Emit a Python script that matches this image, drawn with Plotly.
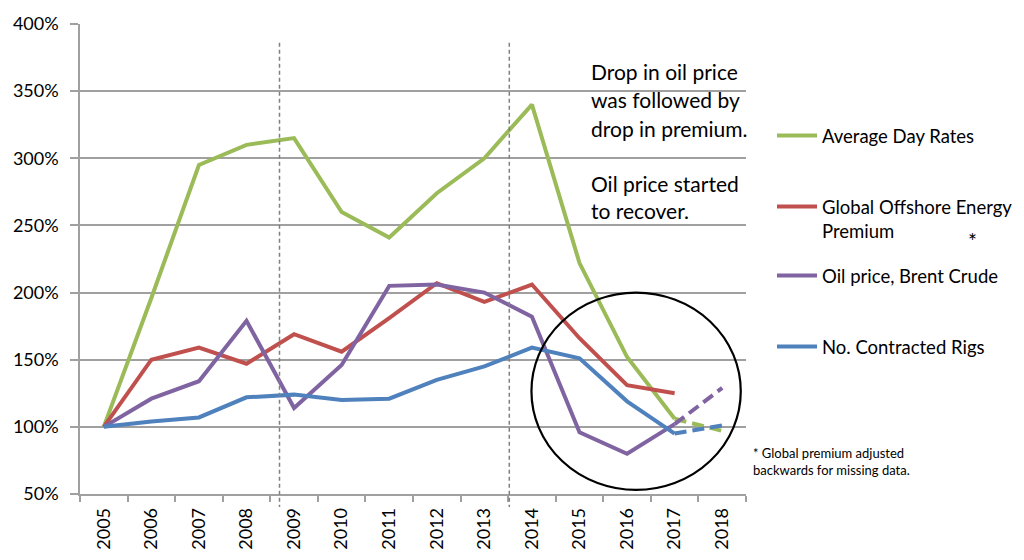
import plotly.graph_objects as go

years = ["2005", "2006", "2007", "2008", "2009", "2010", "2011",
         "2012", "2013", "2014", "2015", "2016", "2017", "2018"]
day_rates = [100, 196, 295, 310, 315, 260, 241, 274, 300, 340, 222, 152, 106, 97]
premium = [100, 150, 159, 147, 169, 156, 181, 207, 193, 206, 166, 131, 125, None]
oil_price = [100, 121, 134, 179, 114, 146, 205, 206, 200, 182, 96, 80, 102, 129]
rigs = [100, 104, 107, 122, 124, 120, 121, 135, 145, 159, 151, 119, 95, 101]

names = ["Average Day Rates", "Global Offshore Energy<br>Premium",
         "Oil price, Brent Crude", "No. Contracted Rigs"]
colors = ["#9BBB59", "#C0504D", "#8064A2", "#4F81BD"]
series = [day_rates, premium, oil_price, rigs]
dashed_tail = [True, False, True, True]
legends = ["legend", "legend2", "legend3", "legend4"]

FONT = "Lato"
fig = go.Figure()

for name, col, vals, tail, lg in zip(names, colors, series, dashed_tail, legends):
    if tail:
        xs, ys = years[:-1], vals[:-1]
    else:
        xs = [y for y, v in zip(years, vals) if v is not None]
        ys = [v for v in vals if v is not None]
    fig.add_trace(go.Scatter(x=xs, y=ys, mode="lines", name=name,
                             line=dict(color=col, width=4), legend=lg))
    if tail:
        fig.add_trace(go.Scatter(x=years[-2:], y=vals[-2:], mode="lines",
                                 showlegend=False, hoverinfo="skip",
                                 line=dict(color=col, width=4, dash="12px,6px")))

# the page body adds an 8px offset; figure is sized to fill the rest
OFF = 8
FW, FH = 1024 - OFF, 560 - OFF
L, R, T, B = 72, 278, 16, 66
W, H = FW - L - R, FH - T - B
def px(x):
    return (x - OFF - L) / W
def py(y):
    return (FH - B - (y - OFF)) / H
def cx(x):
    return (x - OFF) / FW

legend_common = dict(bgcolor="rgba(0,0,0,0)", borderwidth=0,
                     font=dict(family=FONT, size=18.5, color="#000"),
                     xref="container", yref="paper",
                     xanchor="left", yanchor="middle", itemwidth=40,
                     valign="top")
fig.update_layout(
    legend=dict(x=cx(772), y=py(136), **legend_common),
    legend2=dict(x=cx(772), y=py(219), **legend_common),
    legend3=dict(x=cx(772), y=py(276), **legend_common),
    legend4=dict(x=cx(772), y=py(347), **legend_common),
)

gray = "#A0A0A0"
fig.update_layout(
    width=FW, height=FH,
    margin=dict(l=L, r=R, t=T, b=B, autoexpand=False),
    paper_bgcolor="white", plot_bgcolor="white",
    font=dict(family=FONT, color="#111"),
    xaxis=dict(type="category", range=[-0.5, 13.5], tickson="boundaries",
               automargin=False,
               ticks="outside", ticklen=6, tickcolor=gray, tickwidth=1.5,
               showline=True, linecolor=gray, linewidth=1.5, showgrid=False,
               tickangle=-90, ticklabelstandoff=5,
               tickfont=dict(family=FONT, size=18, color="#000")),
    yaxis=dict(range=[50, 400], dtick=50, ticksuffix="%", automargin=False,
               ticks="outside", ticklen=8, tickcolor=gray, tickwidth=1.5,
               showline=True, linecolor=gray, linewidth=1.5,
               showgrid=True, gridcolor=gray, gridwidth=1.5, zeroline=False,
               ticklabelstandoff=8,
               tickfont=dict(family=FONT, size=18, color="#000")),
)

shapes = []
for xv in (279.5, 509.3):
    shapes.append(dict(type="line", xref="paper", yref="paper",
                       x0=px(xv), x1=px(xv), y0=py(42.7), y1=py(507),
                       line=dict(color="#808080", width=1.5, dash="4px,3px")))
shapes.append(dict(type="circle", xref="x", yref="y",
                   x0=8.99, x1=13.39, y0=53, y1=200,
                   line=dict(color="#000", width=2.2)))
fig.update_layout(shapes=shapes)

notes = [("Drop in oil price", 71.3), ("was followed by", 99.7),
         ("drop in premium.", 128), ("Oil price started", 183),
         ("to recover.", 211)]
anns = []
for txt, yy in notes:
    anns.append(dict(text=txt, xref="paper", yref="paper", x=px(589), y=py(yy),
                     xanchor="left", yanchor="middle", showarrow=False,
                     font=dict(family=FONT, size=21, color="#000")))
anns.append(dict(text="*", xref="paper", yref="paper", x=px(972), y=py(240),
                 xanchor="center", yanchor="middle", showarrow=False,
                 font=dict(family=FONT, size=21, color="#000")))
for txt, yy in [("* Global premium adjusted", 453), ("backwards for missing data.", 469.5)]:
    anns.append(dict(text=txt, xref="paper", yref="paper", x=px(751), y=py(yy),
                     xanchor="left", yanchor="middle", showarrow=False,
                     font=dict(family=FONT, size=13, color="#000")))
fig.update_layout(annotations=anns)

fig.write_html("out.html")
